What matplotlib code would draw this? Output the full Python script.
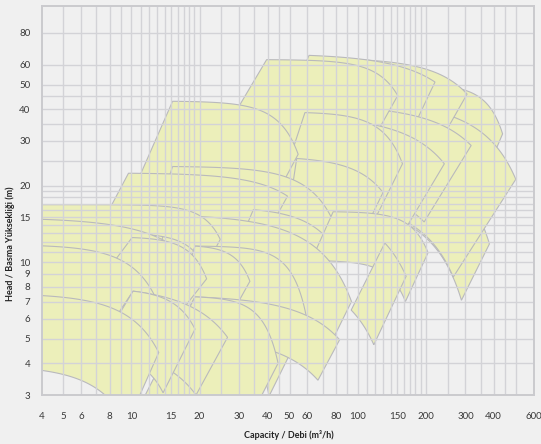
import numpy as np
import matplotlib
matplotlib.use("Agg")
import matplotlib.pyplot as plt
from matplotlib.patches import Polygon

plt.rcParams["font.family"] = ["Lato", "DejaVu Sans"]

# Pump coverage tiles, listed in drawing order (first = lowest).
# Top curve H = H0 - c*Q**N through the top-left and top-right corners,
# right edge runs to the bottom-right corner, bottom curve is the top curve
# shifted by the same Q/H ratios, left edge closes back to the top-left.
Q_TL = [200, 180, 200, 90, 61, 100, 39.6, 80, 58.5, 15.2, 53.8, 15.2, 9.7,
        34.6, 78, 15, 4, 4, 19.1, 19.1, 10.06, 132, 4, 19.1, 19.1, 10.16, 10.16, 4]
H_TL = [24.5, 50, 40, 63.0, 65.2, 40.5, 62.7, 36.5, 38.8, 43.0, 25.6, 23.8, 22.4,
        16.1, 15.8, 15.3, 16.85, 14.75, 11.57, 11.57, 12.5, 11.9, 11.6, 7.3, 7.3, 7.69, 7.69, 7.39]
Q_TR = [383, 438, 501, 305, 220, 318, 150.5, 242, 158, 54.6, 129.6, 78, 49,
        74, 205, 94, 24.7, 18, 59.7, 33.4, 21.5, 164, 14, 83.3, 44.5, 26.6, 19.1, 13.2]
H_TR = [11.8, 32, 21.2, 45.9, 51.2, 28.8, 45.3, 24.4, 24.4, 26.6, 18.8, 14.5, 18.2,
        12.3, 10.9, 7.0, 12.3, 10.3, 5.94, 8.41, 8.6, 8.8, 5.85, 4.95, 4.0, 5.06, 5.45, 4.41]
N_EXP = [2, 5, 2, 2.5, 2, 2, 4, 2, 4, 4, 3, 3, 2.5,
         3, 5, 2, 5, 2, 5, 6, 5, 2, 3, 2, 5, 2, 4, 2.5]
Q_BR = [288, 329, 265, 208, 160, 197, 90, 152, 113, 36, 92.8, 54.6, 33.8,
        49.6, 162.8, 70.8, 21.2, 16, 40.6, 23, 13.7, 118, 10.5, 66.8, 24.4, 19.3, 13.8, 9.54]
H_BR = [7.08, 17.6, 8.74, 25.2, 28.2, 14.4, 20.0, 12.2, 13.4, 13.3, 10.3, 8.0, 10.0,
        6.8, 7.0, 4.2, 9.5, 7.5, 2.97, 4.63, 5.16, 4.73, 3.2, 3.43, 1.4, 3.0, 3.06, 2.3]
LEFT_RATIO = [0.75, 0.7, 0.7, 0.7, 0.75, 0.7, 0.58, 0.7, 0.8, 0.71, 0.9, 0.8, 0.7,
              0.75, 0.8, 0.8, 1, 1, 0.8, 0.8, 0.65, 0.71, 1, 0.8, 0.55, 0.68, 0.68, 1]

X_TICKS = [4, 5, 6, 8, 10, 15, 20, 30, 40, 50, 60, 80, 100, 150, 200, 300, 400, 600]
Y_TICKS = [3, 4, 5, 6, 7, 8, 9, 10, 15, 20, 30, 40, 50, 60, 80]
X_GRID = list(range(5, 21)) + [25, 30, 35, 40, 45, 50] + list(range(60, 201, 10)) + [250, 300, 350, 400, 450, 500]
Y_GRID = list(range(4, 21)) + [25, 30, 35, 40, 45, 50, 60, 80]

FILL = "#ECEFBA"
EDGE = "#B9B9BD"
GRID = "#D3D3D7"
BG = "#F0F0F0"


def tile_outline(qtl, htl, qtr, htr, n, qbr, hbr, al):
    c = (htl - htr) / (qtr ** n - qtl ** n)
    h0 = htl + c * qtl ** n
    a, b = qbr / qtr, hbr / htr
    q_start = qtl if qtl > 4 else 2.0
    qt = np.geomspace(q_start, qtr, 120)
    ht = h0 - c * qt ** n
    q_bl = q_start * (al if qtl > 4 else a)
    qb = np.geomspace(qbr, q_bl, 120)
    hb = np.clip(b * (h0 - c * (qb / a) ** n), 0.5, None)
    return np.column_stack([np.r_[qt, qb], np.r_[ht, hb]])


fig = plt.figure(figsize=(5.41, 4.44), dpi=100, facecolor=BG)
ax = fig.add_axes([41.5 / 541, 49 / 444, 492 / 541, 389 / 444], facecolor=BG)
ax.set_xscale("log")
ax.set_yscale("log")
ax.set_xlim(4, 600)
ax.set_ylim(3, 102)

for i in range(len(Q_TL)):
    pts = tile_outline(Q_TL[i], H_TL[i], Q_TR[i], H_TR[i], N_EXP[i],
                       Q_BR[i], H_BR[i], LEFT_RATIO[i])
    ax.add_patch(Polygon(pts, closed=True, facecolor=FILL, edgecolor=EDGE,
                         linewidth=0.8, zorder=2 + i * 0.01))

ax.vlines(X_GRID, 3, 102, colors=GRID, linewidth=1.0, zorder=3)
ax.hlines(Y_GRID, 4, 600, colors=GRID, linewidth=1.0, zorder=3)

for s in ax.spines.values():
    s.set_color("#CACACE")
    s.set_linewidth(1.4)
    s.set_zorder(4)

ax.set_xticks(X_TICKS)
ax.set_xticklabels([str(v) for v in X_TICKS])
ax.set_yticks(Y_TICKS)
ax.set_yticklabels([str(v) for v in Y_TICKS])
ax.xaxis.set_minor_locator(matplotlib.ticker.NullLocator())
ax.yaxis.set_minor_locator(matplotlib.ticker.NullLocator())
ax.tick_params(axis="both", length=0, labelsize=7, colors="#3A3A3A")
ax.tick_params(axis="x", pad=12)
ax.tick_params(axis="y", pad=8)

fig.text(289 / 541, 1 - 435 / 444, "Capacity / Debi (m\u00b3/h)", ha="center", va="center",
         fontsize=6.5, fontweight="bold", color="#222222")
fig.text(10 / 541, 1 - 244 / 444, "Head / Basma Y\u00fcksekli\u011fi (m)",
         ha="center", va="center", rotation=90, fontsize=6.5, fontweight="bold", color="#222222")

fig.savefig("out.png", dpi=100, facecolor=BG)
